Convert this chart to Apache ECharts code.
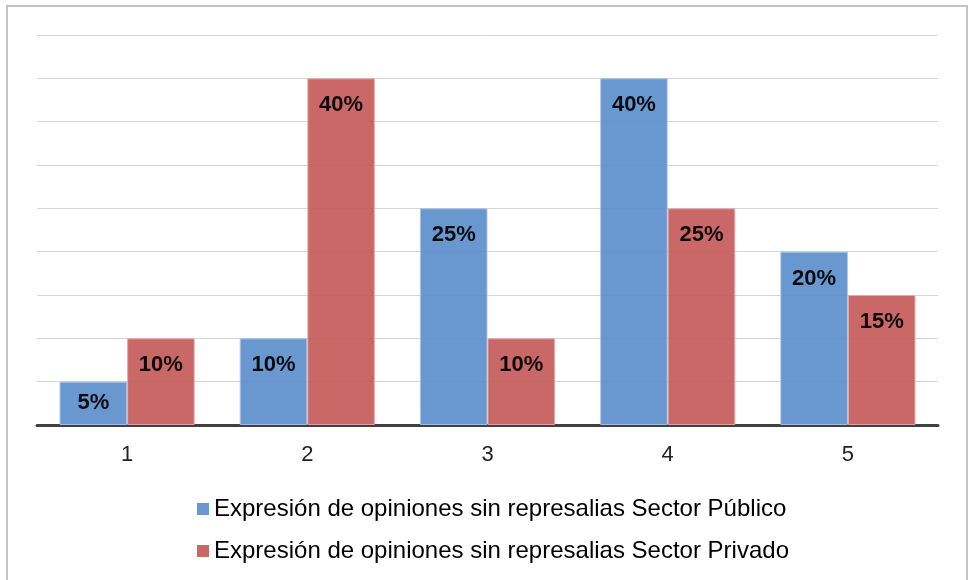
<!DOCTYPE html>
<html>
<head>
<meta charset="utf-8">
<script src="https://cdn.jsdelivr.net/npm/echarts@6/dist/echarts.min.js"></script>
<style>
  html, body { margin: 0; padding: 0; background: #fff; }
  #chart { width: 969px; height: 580px; }
</style>
</head>
<body>
<div id="chart"></div>
<script>
const categories = ["1", "2", "3", "4", "5"];
const publico = [5, 10, 25, 40, 20];
const privado = [10, 40, 10, 25, 15];
const seriesNames = [
  "Expresión de opiniones sin represalias Sector Público",
  "Expresión de opiniones sin represalias Sector Privado"
];

const myChart = echarts.init(document.getElementById("chart"));

// small bars get their label centred instead of at the top
function withLabels(values) {
  return values.map(v => v < 8
    ? { value: v, label: { position: "inside" } }
    : v);
}

const labelStyle = {
  show: true,
  position: "insideTop",
  distance: 16,
  formatter: p => p.value + "%",
  color: "#000",
  fontSize: 22,
  fontWeight: "bold",
  fontFamily: "Liberation Sans"
};

const option = {
  animation: false,
  graphic: [{
    type: "rect",
    shape: { x: 7, y: 6, width: 960, height: 620 },
    style: { fill: "none", stroke: "#c3c3c3", lineWidth: 2 }
  }],
  grid: { left: 37, right: 31, top: 35, bottom: 155 },
  legend: {
    orient: "vertical",
    left: 192,
    top: 492,
    icon: "rect",
    itemWidth: 12,
    itemHeight: 12,
    itemGap: 18,
    itemStyle: { borderWidth: 0 },
    textStyle: { fontSize: 24, color: "#000", fontFamily: "Liberation Sans" },
    data: seriesNames
  },
  xAxis: {
    type: "category",
    data: categories,
    axisTick: { show: false },
    axisLine: { lineStyle: { color: "#404040", width: 3 } },
    axisLabel: { fontSize: 22, color: "#222", margin: 19, fontFamily: "Liberation Sans" }
  },
  yAxis: {
    type: "value",
    min: 0,
    max: 45,
    interval: 5,
    axisLabel: { show: false },
    splitLine: { lineStyle: { color: "#d6d6d6", width: 1 } }
  },
  series: [
    {
      name: seriesNames[0],
      type: "bar",
      data: withLabels(publico),
      barGap: "0%",
      barCategoryGap: "25%",
      itemStyle: { color: "#5b8fcb", opacity: 0.92, borderColor: "#a9c4e6", borderWidth: 1 },
      label: labelStyle
    },
    {
      name: seriesNames[1],
      type: "bar",
      data: withLabels(privado),
      barGap: "0%",
      barCategoryGap: "25%",
      itemStyle: { color: "#c65a5a", opacity: 0.92, borderColor: "#e6a9a9", borderWidth: 1 },
      label: labelStyle
    }
  ]
};

myChart.setOption(option);
window.addEventListener("resize", () => myChart.resize());
</script>
</body>
</html>
